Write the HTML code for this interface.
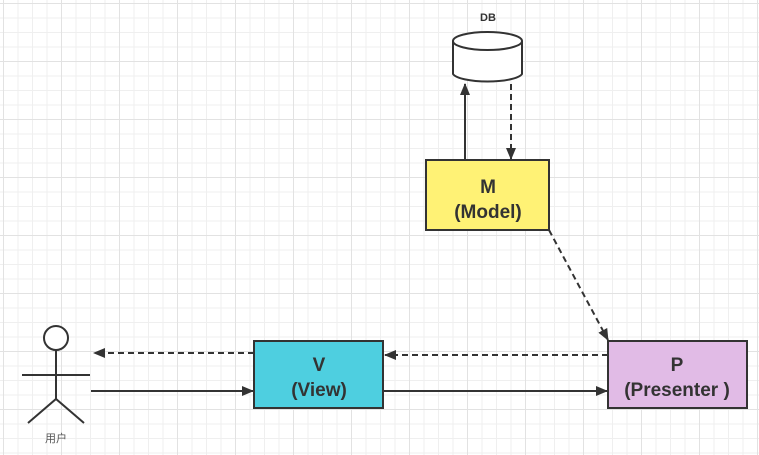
<!DOCTYPE html>
<html><head><meta charset="utf-8"><style>
body{margin:0;width:759px;height:455px;overflow:hidden;background:#fff;
background-image:linear-gradient(#e2e2e2 1px,transparent 1px),linear-gradient(90deg,#e2e2e2 1px,transparent 1px),linear-gradient(#efefef 1px,transparent 1px),linear-gradient(90deg,#efefef 1px,transparent 1px);
background-size:58px 58px,58px 58px,14.5px 14.5px,14.5px 14.5px;background-position:3px 3px;}
svg{position:absolute;left:0;top:0}
text{font-family:"Liberation Sans","Noto Sans CJK SC",sans-serif;fill:#333}
</style></head><body>
<svg width="759" height="455" viewBox="0 0 759 455">
<defs><marker id="a" markerWidth="12" markerHeight="10" refX="11" refY="5" orient="auto" markerUnits="userSpaceOnUse"><path d="M0,0 L12,5 L0,10 z" fill="#333"/></marker></defs>
<g stroke="#333" stroke-width="2" fill="none">
<path d="M453,41 v33 a35,9 0 0 0 69,0 v-33" fill="#fff"/>
<ellipse cx="487.5" cy="41" rx="34.5" ry="9" fill="#fff"/>
<line x1="465" y1="160" x2="465" y2="84" marker-end="url(#a)"/>
<line x1="511" y1="84" x2="511" y2="159" stroke-dasharray="6,4" marker-end="url(#a)"/>
<line x1="549" y1="230" x2="608" y2="340" stroke-dasharray="6,4" marker-end="url(#a)"/>
<line x1="608" y1="355" x2="385" y2="355" stroke-dasharray="6,4" marker-end="url(#a)"/>
<line x1="254" y1="353" x2="94" y2="353" stroke-dasharray="6,4" marker-end="url(#a)"/>
<line x1="91" y1="391" x2="253" y2="391" marker-end="url(#a)"/>
<line x1="383" y1="391" x2="607" y2="391" marker-end="url(#a)"/>
<rect x="426" y="160" width="123" height="70" fill="#fff275"/>
<rect x="254" y="341" width="129" height="67" fill="#4ecfe0"/>
<rect x="608" y="341" width="139" height="67" fill="#e1bbe6"/>
<circle cx="56" cy="338" r="12" fill="#fff"/>
<line x1="56" y1="350" x2="56" y2="399"/>
<line x1="22" y1="375" x2="90" y2="375"/>
<path d="M28,423 L56,399 L84,423"/>
</g>
<text x="488" y="21" font-size="11" font-weight="bold" text-anchor="middle">DB</text>
<g font-size="19" font-weight="bold" text-anchor="middle">
<text x="488" y="193">M</text><text x="488" y="218">(Model)</text>
<text x="319" y="371">V</text><text x="319" y="396">(View)</text>
<text x="677" y="371">P</text><text x="677" y="396">(Presenter )</text>
</g>
<text x="56" y="442" font-size="11" text-anchor="middle" style="fill:#555">用户</text>
</svg>
</body></html>
